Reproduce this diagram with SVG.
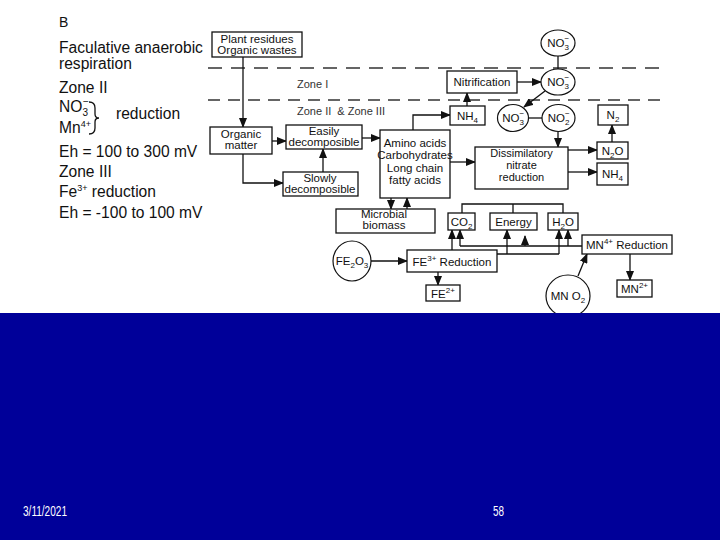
<svg xmlns="http://www.w3.org/2000/svg" width="720" height="540" viewBox="0 0 720 540">
<defs>
<marker id="ah" markerUnits="userSpaceOnUse" markerWidth="10" markerHeight="8" refX="9" refY="4" orient="auto">
<path d="M0,0 L10,4 L0,8 Z" fill="#111"/>
</marker>
</defs>
<style>
text{font-family:"Liberation Sans",Arial,sans-serif;fill:#111}
.lg{font-size:15.6px}
.t{font-size:11.5px;text-anchor:middle}
.ts{font-size:11.5px}
.zn{font-size:11px;fill:#333;white-space:pre}
.box{fill:#fff;stroke:#111;stroke-width:1.3}
.el{fill:#fff;stroke:#111;stroke-width:1.2}
.c{fill:none;stroke:#111;stroke-width:1.3}
.a{fill:none;stroke:#111;stroke-width:1.3;marker-end:url(#ah)}
.d1{fill:none;stroke:#333;stroke-width:1.3;stroke-dasharray:14 9}
.d2{fill:none;stroke:#333;stroke-width:1.3;stroke-dasharray:12 8}
.ft{font-size:15px;fill:#fff}
</style>
<rect x="0" y="0" width="720" height="540" fill="#fff"/>

<g id="legend">
<text class="lg" x="59" y="27" style="font-size:14px">B</text>
<text class="lg" x="59" y="53">Faculative anaerobic</text>
<text class="lg" x="59" y="69">respiration</text>
<text class="lg" x="59" y="93">Zone II</text>
<text class="lg" x="59" y="112">NO<tspan font-size="10" dy="4">3</tspan></text>
<text class="lg" x="83" y="105" style="font-size:10px">−</text>
<path class="c" d="M89,102 Q95,102 95,108 L95,114 Q95,118 99,118 Q95,118 95,122 L95,128 Q95,134 89,134" stroke-width="1.1"/>
<text class="lg" x="116" y="119">reduction</text>
<text class="lg" x="59" y="133">Mn<tspan font-size="9" dy="-6">4+</tspan></text>
<text class="lg" x="59" y="157">Eh = 100 to 300 mV</text>
<text class="lg" x="59" y="177">Zone III</text>
<text class="lg" x="59" y="197">Fe<tspan font-size="9" dy="-6">3+</tspan><tspan dy="6"> reduction</tspan></text>
<text class="lg" x="59" y="218">Eh = -100 to 100 mV</text>
</g>

<g id="zones">
<line class="d1" x1="208" y1="68" x2="666" y2="68"/>
<line class="d2" x1="208" y1="100" x2="666" y2="100"/>
<text class="zn" x="297" y="88">Zone I</text>
<text class="zn" x="297" y="115">Zone II &#160;&amp; Zone III</text>
</g>

<g id="connectors">
<line class="a" x1="243" y1="57" x2="243" y2="127"/>
<line class="a" x1="272" y1="141" x2="286" y2="141"/>
<path class="a" d="M243,154 V183 H283"/>
<line class="a" x1="323" y1="172" x2="323" y2="149"/>
<line class="a" x1="362" y1="138" x2="380" y2="138"/>
<path class="a" d="M413,130 V115 H450"/>
<line class="a" x1="467" y1="106" x2="467" y2="93"/>
<line class="a" x1="517" y1="82" x2="541" y2="82"/>
<line class="c" x1="558" y1="56" x2="558" y2="69"/>
<line class="a" x1="545" y1="91" x2="524" y2="107"/>
<line class="c" x1="528.5" y1="118" x2="542" y2="118"/>
<line class="a" x1="558" y1="131.5" x2="558" y2="147"/>
<line class="a" x1="450" y1="162" x2="475" y2="162"/>
<line class="a" x1="568" y1="150" x2="597" y2="150"/>
<line class="a" x1="568" y1="172" x2="597" y2="172"/>
<line class="a" x1="612" y1="142" x2="612" y2="125"/>
<line class="a" x1="391" y1="198" x2="391" y2="209"/>
<line class="a" x1="407" y1="209" x2="407" y2="198"/>
<path class="c" d="M462,213 V204 H563 V213 M513,204 V213"/>
<line class="a" x1="452" y1="250" x2="452" y2="230"/>
<path class="c" d="M497,254 H559"/>
<line class="a" x1="507" y1="254" x2="507" y2="230"/>
<line class="a" x1="559" y1="254" x2="559" y2="230"/>
<path class="c" d="M582,246 H460"/>
<line class="a" x1="460" y1="246" x2="460" y2="230"/>
<line class="a" x1="525" y1="246" x2="525" y2="236"/>
<line class="a" x1="568" y1="246" x2="568" y2="230"/>
<line class="a" x1="371" y1="261" x2="407" y2="261"/>
<line class="a" x1="438" y1="272" x2="438" y2="285"/>
<line class="a" x1="578" y1="276" x2="587" y2="254"/>
<line class="a" x1="630" y1="254" x2="630" y2="280"/>
</g>

<g id="plant"><rect class="box" x="212" y="32" width="90" height="25"/>
<text class="t" x="257" y="43">Plant residues</text><text class="t" x="257" y="54">Organic wastes</text></g>
<g id="organic"><rect class="box" x="210" y="127" width="62" height="27"/>
<text class="t" x="241" y="138">Organic</text><text class="t" x="241" y="149">matter</text></g>
<g id="easily"><rect class="box" x="286" y="125" width="76" height="24"/>
<text class="t" x="324" y="135">Easily</text><text class="t" x="324" y="146">decomposible</text></g>
<g id="slowly"><rect class="box" x="283" y="172" width="75" height="24"/>
<text class="t" x="320" y="182">Slowly</text><text class="t" x="320" y="193">decomposible</text></g>
<g id="amino"><rect class="box" x="380" y="130" width="70" height="68"/>
<text class="t" x="415" y="147">Amino acids</text><text class="t" x="415" y="159">Carbohydrates</text>
<text class="t" x="415" y="172">Long chain</text><text class="t" x="415" y="184">fatty acids</text></g>
<g id="nh4a"><rect class="box" x="450" y="106" width="35" height="19"/>
<text class="t" x="467.5" y="120">NH<tspan font-size="8" dy="3">4</tspan></text></g>
<g id="nitrification"><rect class="box" x="447" y="71" width="70" height="22"/>
<text class="t" x="482" y="86">Nitrification</text></g>
<g id="no3top"><ellipse class="el" cx="558" cy="43" rx="17" ry="13"/>
<text class="ts" x="547.2" y="47">NO<tspan font-size="8" dy="3">3</tspan></text><text class="ts" x="564.5" y="41" style="font-size:8px">−</text></g>
<g id="no3mid"><ellipse class="el" cx="558" cy="82" rx="17" ry="13"/>
<text class="ts" x="547.2" y="86">NO<tspan font-size="8" dy="3">3</tspan></text><text class="ts" x="564.5" y="80" style="font-size:8px">−</text></g>
<g id="no3low"><ellipse class="el" cx="513" cy="118" rx="15.5" ry="13.5"/>
<text class="ts" x="502.2" y="122">NO<tspan font-size="8" dy="3">3</tspan></text><text class="ts" x="519.5" y="116" style="font-size:8px">−</text></g>
<g id="no2"><ellipse class="el" cx="558.5" cy="118" rx="16.5" ry="13.5"/>
<text class="ts" x="547.7" y="122">NO<tspan font-size="8" dy="3">2</tspan></text><text class="ts" x="565" y="116" style="font-size:8px">−</text></g>
<g id="n2"><rect class="box" x="598" y="105" width="30" height="20"/>
<text class="t" x="613" y="119">N<tspan font-size="8" dy="3">2</tspan></text></g>
<g id="dissim"><rect class="box" x="475" y="147" width="93" height="42"/>
<text class="t" x="521.5" y="157" style="font-size:11px">Dissimilatory</text><text class="t" x="521.5" y="169" style="font-size:11px">nitrate</text><text class="t" x="521.5" y="181" style="font-size:11px">reduction</text></g>
<g id="n2o"><rect class="box" x="597" y="142" width="31" height="17"/>
<text class="t" x="612.5" y="155">N<tspan font-size="8" dy="3">2</tspan><tspan dy="-3">O</tspan></text></g>
<g id="nh4b"><rect class="box" x="597" y="163" width="31" height="22"/>
<text class="t" x="612.5" y="178">NH<tspan font-size="8" dy="3">4</tspan></text></g>
<g id="microbial"><rect class="box" x="336" y="209" width="99" height="24"/>
<text class="t" x="384" y="218">Microbial</text><text class="t" x="384" y="229">biomass</text></g>
<g id="co2"><rect class="box" x="448" y="213" width="27" height="17"/>
<text class="t" x="461.5" y="226">CO<tspan font-size="8" dy="3">2</tspan></text></g>
<g id="energy"><rect class="box" x="490" y="213" width="47" height="17"/>
<text class="t" x="513.5" y="226">Energy</text></g>
<g id="h2o"><rect class="box" x="548" y="213" width="30" height="17"/>
<text class="t" x="563" y="226">H<tspan font-size="8" dy="3">2</tspan><tspan dy="-3">O</tspan></text></g>
<g id="fe2o3"><ellipse class="el" cx="352" cy="261" rx="19" ry="20"/>
<text class="t" x="352" y="265">FE<tspan font-size="8" dy="3">2</tspan><tspan dy="-3">O</tspan><tspan font-size="8" dy="3">3</tspan></text></g>
<g id="fe3"><rect class="box" x="407" y="250" width="90" height="22"/>
<text class="t" x="452" y="266">FE<tspan font-size="8" dy="-5">3+</tspan><tspan dy="5"> Reduction</tspan></text></g>
<g id="fe2"><rect class="box" x="426" y="285" width="34" height="16"/>
<text class="t" x="443" y="298">FE<tspan font-size="8" dy="-5">2+</tspan></text></g>
<g id="mn4"><rect class="box" x="582" y="235" width="90" height="19"/>
<text class="t" x="627" y="249">MN<tspan font-size="8" dy="-5">4+</tspan><tspan dy="5"> Reduction</tspan></text></g>
<g id="mno2"><ellipse class="el" cx="568" cy="296" rx="22" ry="21"/>
<text class="t" x="568" y="300">MN O<tspan font-size="8" dy="3">2</tspan></text></g>
<g id="mn2"><rect class="box" x="617" y="280" width="35" height="17"/>
<text class="t" x="634.5" y="293">MN<tspan font-size="8" dy="-5">2+</tspan></text></g>

<g id="footer">
<rect x="0" y="313" width="720" height="227" fill="#000099"/>
<text class="ft" x="23" y="516" textLength="44" lengthAdjust="spacingAndGlyphs">3/11/2021</text>
<text class="ft" x="493" y="516" textLength="11" lengthAdjust="spacingAndGlyphs">58</text>
</g>
</svg>
